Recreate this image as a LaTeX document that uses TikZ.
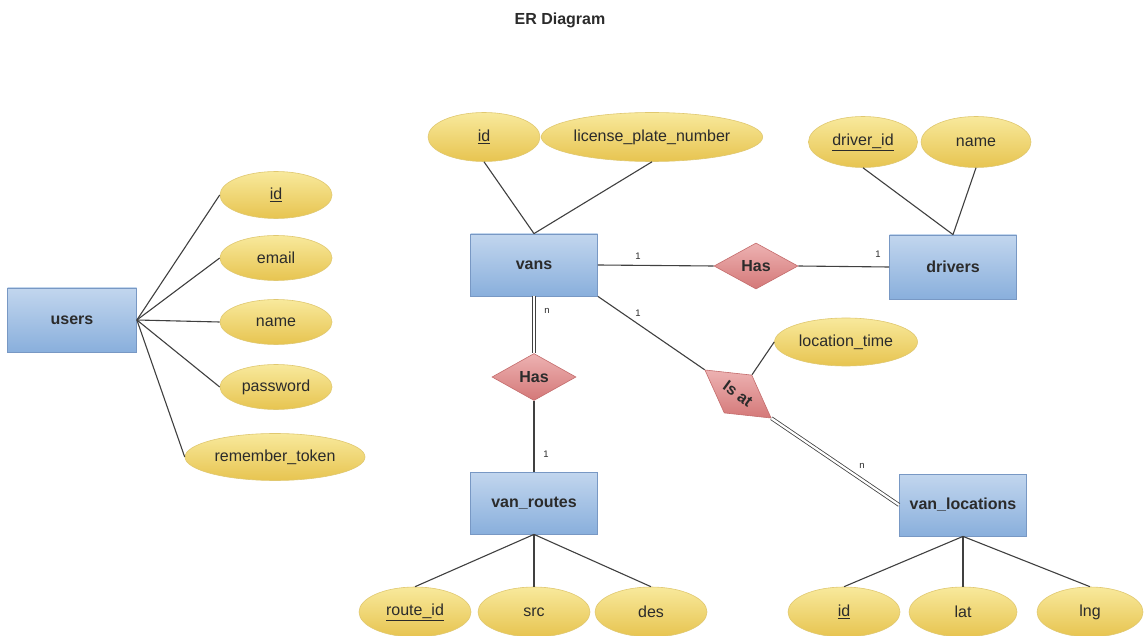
\documentclass[tikz,border=0pt]{standalone}
\usepackage{fontspec}
\setmainfont{Liberation Sans}
\usetikzlibrary{shapes.geometric}
\definecolor{entTop}{HTML}{C2D6EE}
\definecolor{entBot}{HTML}{89AFDC}
\definecolor{entLine}{HTML}{7898C4}
\definecolor{attTop}{HTML}{F8E99C}
\definecolor{attBot}{HTML}{E7C450}
\definecolor{attLine}{HTML}{E0C870}
\definecolor{relTop}{HTML}{EDB2B2}
\definecolor{relBot}{HTML}{D47878}
\definecolor{relLine}{HTML}{C46C6C}
\definecolor{ink}{HTML}{2B2B2B}
\definecolor{wire}{HTML}{404040}
\begin{document}
\begin{tikzpicture}[x=1pt,y=-1pt,
  entity/.style={rectangle, draw=entLine, line width=0.8pt, top color=entTop, bottom color=entBot,
    minimum width=127pt, minimum height=62pt, font=\fontsize{16}{18}\selectfont\bfseries, text=ink},
  attr/.style={ellipse, draw=attLine, line width=0.6pt, top color=attTop, bottom color=attBot,
    minimum height=47pt, inner sep=0pt, font=\fontsize{16}{18}\selectfont, text=ink},
  rel/.style={diamond, aspect=1.8, draw=relLine, line width=0.6pt, top color=relTop, bottom color=relBot,
    minimum width=84pt, minimum height=46pt, inner sep=0pt, font=\fontsize{16}{18}\selectfont\bfseries, text=ink},
  link/.style={draw=wire, line width=1.1pt},
  dbl/.style={draw=wire, line width=0.8pt, double=white, double distance=2.2pt},
  card/.style={font=\fontsize{9.5}{10}\selectfont, text=ink, inner sep=1pt}
]
\fill[white] (0,0) rectangle (1146,636);
\useasboundingbox (0,0) rectangle (1146,636);

% title
\node[font=\fontsize{16}{18}\selectfont\bfseries, text=ink] (title) at (560,20) {ER Diagram};

% entities
\node[entity, minimum width=129pt, minimum height=64pt] (users) at (72,320) {users};
\node[entity] (vans) at (534,265) {vans};
\node[entity, minimum height=64pt] (drivers) at (953,267) {drivers};
\node[entity] (routes) at (534,503) {van\_routes};
\node[entity] (locs) at (963,505) {van\_locations};

% relationships
\node[rel] (hasdrv) at (756,266) {Has};
\node[rel, minimum height=47pt] (hasrt) at (534,377) {Has};
\node[rel, minimum width=82pt, minimum height=47pt, rotate=-36] (isat) at (738,394) {Is at};

% attributes of users
\node[attr, minimum width=112pt] (uid) at (276,195) {\underline{id}};
\node[attr, minimum width=112pt, minimum height=45pt] (uemail) at (276,258) {email};
\node[attr, minimum width=112pt, minimum height=45pt] (uname) at (276,322) {name};
\node[attr, minimum width=112pt, minimum height=45pt] (upass) at (276,387) {password};
\node[attr, minimum width=180pt] (utok) at (275,457) {remember\_token};

% attributes of vans
\node[attr, minimum width=112pt, minimum height=49pt] (vid) at (484,137) {\underline{id}};
\node[attr, minimum width=210pt, minimum height=49pt] (vlpn) at (652,137) {license\_plate\_number};

% attributes of drivers
\node[attr, minimum width=109pt, minimum height=51pt] (did) at (863,142) {\underline{driver\_id}};
\node[attr, minimum width=110pt, minimum height=51pt] (dname) at (976,142) {name};

% attribute of the "Is at" relationship
\node[attr, minimum width=143pt, minimum height=48pt] (ltime) at (846,342) {location\_time};

% attributes of van_routes
\node[attr, minimum width=112pt, minimum height=50pt] (rid) at (415,612) {\underline{route\_id}};
\node[attr, minimum width=112pt, minimum height=50pt] (rsrc) at (534,612) {src};
\node[attr, minimum width=112pt, minimum height=50pt] (rdes) at (651,612) {des};

% attributes of van_locations
\node[attr, minimum width=112pt, minimum height=50pt] (lid) at (844,612) {\underline{id}};
\node[attr, minimum width=108pt, minimum height=50pt] (llat) at (963,612) {lat};
\node[attr, minimum width=106pt, minimum height=50pt] (llng) at (1090,612) {lng};

% attribute links
\draw[link] (users.east) -- (uid.west);
\draw[link] (users.east) -- (uemail.west);
\draw[link] (users.east) -- (uname.west);
\draw[link] (users.east) -- (upass.west);
\draw[link] (users.east) -- (utok.west);
\draw[link] (vans.north) -- (vid.south);
\draw[link] (vans.north) -- (vlpn.south);
\draw[link] (drivers.north) -- (did.south);
\draw[link] (drivers.north) -- (dname.south);
\draw[link] (isat.north) -- (ltime.west);
\draw[link] (routes.south) -- (rid.north);
\draw[link] (routes.south) -- (rsrc.north);
\draw[link] (routes.south) -- (rdes.north);
\draw[link] (locs.south) -- (lid.north);
\draw[link] (locs.south) -- (llat.north);
\draw[link] (locs.south) -- (llng.north);

% relationship links
\draw[link] (vans.east) -- (hasdrv.west);
\draw[link] (hasdrv.east) -- (drivers.west);
\draw[dbl] (vans.south) -- (hasrt.north);
\draw[link] (hasrt.south) -- (routes.north);
\draw[link] (vans.south east) -- (isat.west);
\draw[dbl] (isat.east) -- (locs.west);

% cardinalities
\node[card] (c1) at (638,256) {1};
\node[card] (c2) at (878,254) {1};
\node[card] (c3) at (547,311) {n};
\node[card] (c4) at (638,313) {1};
\node[card] (c5) at (546,454) {1};
\node[card] (c6) at (862,466) {n};
\end{tikzpicture}
\end{document}
